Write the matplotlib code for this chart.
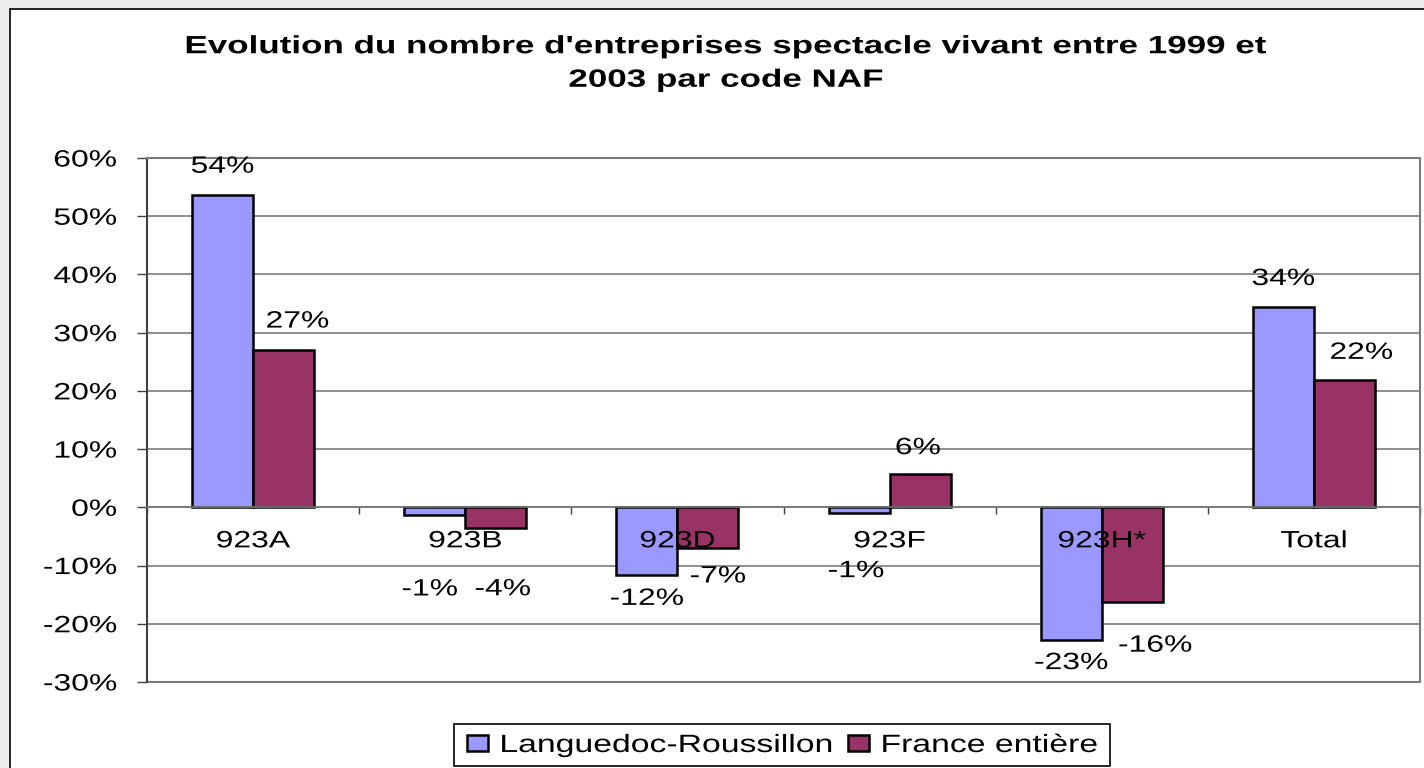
import numpy as np
import matplotlib
matplotlib.use("Agg")
import matplotlib.pyplot as plt
from matplotlib.patches import Rectangle
from matplotlib.patheffects import AbstractPathEffect
from matplotlib.transforms import Affine2D

# ---- data ----
categories = ["923A", "923B", "923D", "923F", "923H*", "Total"]
series_names = ["Languedoc-Roussillon", "France entière"]
lr_values = [53.7, -1.4, -11.6, -1.0, -22.8, 34.4]
fr_values = [27.1, -3.6, -6.9, 5.7, -16.2, 21.9]
y_ticks = [-30, -20, -10, 0, 10, 20, 30, 40, 50, 60]
title = "Evolution du nombre d'entreprises spectacle vivant entre 1999 et\n2003 par code NAF"

# ---- layout / style ----
W, H, DPI = 1424, 768, 100
PX = 72.0 / DPI  # points per pixel
lr_color = "#9999FF"
fr_color = "#993366"
font = "Liberation Sans"
fs = 17
S = 1.35  # horizontal stretch of the reference's lettering

# label offsets in pixels (dx, dy; dy positive = down) for each data label
lr_offsets = [(0, -28), (-5, 74), (0, 24), (-3, 58), (0, 23), (0, -28)]
fr_offsets = [(14, -28), (7, 61), (10, 29), (-2, -26), (23, 44), (17, -27)]


class StretchX(AbstractPathEffect):
    """Draw text glyphs horizontally stretched about an anchor."""

    def __init__(self, s=S, anchor="center"):
        super().__init__()
        self.s = s
        self.anchor = anchor

    def draw_path(self, renderer, gc, tpath, affine, rgbFace=None):
        ext = tpath.get_extents()
        if self.anchor == "center":
            cx = (ext.x0 + ext.x1) / 2
        elif self.anchor == "right":
            cx = ext.x1
        else:
            cx = 0.0
        t = Affine2D().translate(-cx, 0).scale(self.s, 1).translate(cx, 0) + affine
        renderer.draw_path(gc, tpath, t, rgbFace)


plt.rcParams["font.family"] = [font, "DejaVu Sans"]
fig = plt.figure(figsize=(W / DPI, H / DPI), dpi=DPI, facecolor="white")

# outer background stripes area & chart border
fig.patches.append(Rectangle((0, 0), 10 / W, 1, transform=fig.transFigure,
                             facecolor="#eeeeee", edgecolor="none", zorder=-3))
fig.patches.append(Rectangle((0, 1 - 9 / H), 1, 9 / H, transform=fig.transFigure,
                             facecolor="#eeeeee", edgecolor="none", zorder=-3))
fig.patches.append(Rectangle((10 / W, -0.01), 1.0, 1 - 9 / H + 0.01, transform=fig.transFigure,
                             facecolor="white", edgecolor="black", linewidth=1.2, zorder=-2))

ax = fig.add_axes([147 / W, 1 - 682 / H, (1420 - 147) / W, (682 - 158) / H])
ax.set_zorder(2)
ax.set_facecolor("white")

x = np.arange(len(categories))
bw = 61 / 212.0
ax.bar(x - bw / 2, lr_values, bw, color=lr_color, edgecolor="black", linewidth=1.8,
       label=series_names[0], zorder=3)
ax.bar(x + bw / 2, fr_values, bw, color=fr_color, edgecolor="black", linewidth=1.8,
       label=series_names[1], zorder=3)

ax.set_xlim(-0.5, len(categories) - 0.5)
ax.set_ylim(y_ticks[0], y_ticks[-1])
ax.set_yticks(y_ticks)
ax.set_yticklabels([f"{v}%" for v in y_ticks], fontsize=fs)
for tk in ax.yaxis.get_major_ticks():
    tk.label1.set_path_effects([StretchX(S, "right")])
ax.yaxis.grid(True, color="#7a7a7a", linewidth=1.2, zorder=1)
ax.tick_params(axis="y", direction="out", length=10 * PX, width=1.0, color="#404040",
               pad=20 * PX)

# x axis line at zero with ticks at category boundaries
ax.spines["bottom"].set_position(("data", 0))
ax.spines["bottom"].set_color("#7a7a7a")
ax.spines["bottom"].set_linewidth(1.2)
ax.spines["bottom"].set_zorder(4)
ax.set_xticks(np.arange(-0.5, len(categories), 1.0))
ax.set_xticklabels([])
ax.tick_params(axis="x", direction="out", length=5, width=1.0, color="#404040")
for s in ["top", "right"]:
    ax.spines[s].set_color("#7a7a7a")
    ax.spines[s].set_linewidth(1.5)
ax.spines["left"].set_color("#404040")
ax.spines["left"].set_linewidth(1.5)
ax.axhline(y_ticks[0], color="#7a7a7a", linewidth=1.5, zorder=1, clip_on=False)

# category labels just under the zero line
for xi, c in zip(x, categories):
    ax.annotate(c, (xi, 0), xytext=(0, -34 * PX), textcoords="offset points",
                ha="center", va="center", fontsize=fs, zorder=6,
                path_effects=[StretchX(S, "center")])

# data labels
for xi, v, off in zip(x, lr_values, lr_offsets):
    ax.annotate(f"{round(v):d}%", (xi - bw / 2, v), xytext=(off[0] * PX, -off[1] * PX),
                textcoords="offset points", ha="center", va="center", fontsize=fs, zorder=6,
                path_effects=[StretchX(S, "center")])
for xi, v, off in zip(x, fr_values, fr_offsets):
    ax.annotate(f"{round(v):d}%", (xi + bw / 2, v), xytext=(off[0] * PX, -off[1] * PX),
                textcoords="offset points", ha="center", va="center", fontsize=fs, zorder=6,
                path_effects=[StretchX(S, "center")])

fig.text(726 / W, 1 - 63 / H, title, ha="center", va="center", fontsize=18,
         fontweight="bold", linespacing=1.5, path_effects=[StretchX(1.4, "center")])

# ---- legend (stretched text, two passes to size the frame) ----
handles, labels = ax.get_legend_handles_labels()
leg_fs = 18
leg_fs_px = leg_fs / PX
leg_yc = 1 - 745 / H


def make_legend(x_left, cs):
    lg = fig.legend(handles, labels, loc="center left", bbox_to_anchor=(x_left, leg_yc),
                    ncol=2, fontsize=leg_fs, frameon=False,
                    handlelength=0.85, handleheight=0.6, handletextpad=0.45,
                    columnspacing=cs, borderpad=0.0, borderaxespad=0.0)
    for t in lg.get_texts():
        t.set_path_effects([StretchX(S, "left")])
    return lg


leg = make_legend(0.3, 0.6)
fig.canvas.draw()
r = fig.canvas.get_renderer()
w1 = leg.get_texts()[0].get_window_extent(r).width
w2 = leg.get_texts()[1].get_window_extent(r).width
leg.remove()
cs = 0.6 + (S - 1) * w1 / leg_fs_px
leg = make_legend(0.3, cs)
fig.canvas.draw()
bb = leg.get_window_extent(fig.canvas.get_renderer())
total = bb.width + (S - 1) * w2
pad_l = 13
pad_r = 12
x_left_px = 782 - (total + pad_l + pad_r) / 2 + pad_l
leg.remove()
leg = make_legend(x_left_px / W, cs)
fig.patches.append(Rectangle(((x_left_px - pad_l) / W, 1 - 766 / H),
                             (total + pad_l + pad_r) / W, 42 / H, transform=fig.transFigure,
                             facecolor="white", edgecolor="black", linewidth=1.2, zorder=-1))

fig.savefig("out.png", dpi=DPI, facecolor="white")
